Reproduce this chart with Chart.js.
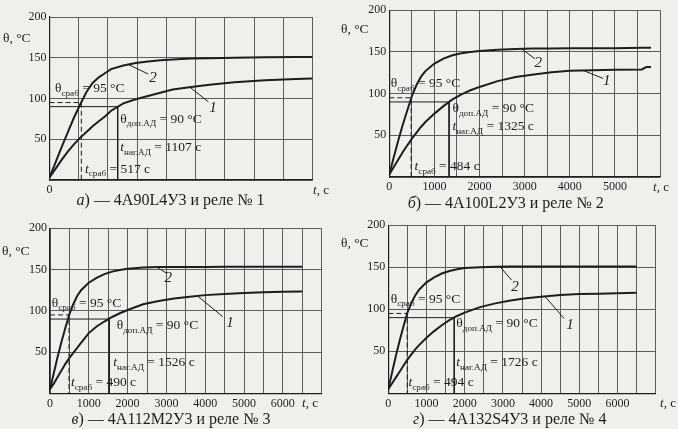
<!DOCTYPE html>
<html>
<head>
<meta charset="utf-8">
<script src="https://cdn.jsdelivr.net/npm/chart.js@4"></script>
<style>
  body { margin: 0; background: #efefec; }
  #wrap { position: relative; width: 678px; height: 429px; overflow: hidden; }
  canvas { position: absolute; }
</style>
</head>
<body>
<div id="wrap">
  <canvas id="pa" width="340" height="215" style="left:0;top:0"></canvas>
  <canvas id="pb" width="338" height="215" style="left:340px;top:0"></canvas>
  <canvas id="pc" width="340" height="214" style="left:0;top:215px"></canvas>
  <canvas id="pd" width="338" height="214" style="left:340px;top:215px"></canvas>
</div>
<script>
// heating curves theta(t)
// 1 - motor, 2 - thermal relay
const timeA = [0, 100, 200, 300, 400, 500, 600, 700, 800, 900, 1000, 1200, 1400, 1600, 1800, 2000, 2300, 2600, 3000, 3500, 4000, 4270];
const curveA1 = [3, 14, 25, 35, 44, 52, 59, 66, 72, 78, 85, 94, 99, 103, 107, 111, 114, 117, 120, 122.5, 124, 124.5];
const curveA2 = [3, 22, 41, 59, 77, 93, 108, 119, 126, 131, 136, 140.5, 143.5, 145.5, 147, 148, 149, 149.5, 150, 150.5, 151, 151];

const timeB = [0, 100, 200, 300, 400, 500, 600, 700, 800, 1000, 1200, 1400, 1600, 1800, 2000, 2400, 2800, 3200, 3600, 4000, 4500, 5000, 5600, 5700, 5800];
const curveB1 = [3, 12, 21, 30, 38, 46, 53, 60, 66, 76, 85, 93, 99, 104, 108, 115, 120, 123, 125.5, 127.5, 128, 128.5, 129, 132, 132];
const curveB2 = [3, 24, 44, 63, 80, 97, 110, 120, 127, 136, 142, 146, 148.5, 150, 151, 152.5, 153.5, 154, 154, 154.5, 154.5, 154.5, 155, 155, 155];

const timeC = [0, 100, 200, 300, 400, 500, 600, 700, 800, 1000, 1200, 1400, 1600, 1800, 2000, 2400, 2800, 3200, 3600, 4000, 4500, 5000, 5500, 6000, 6500];
const curveC1 = [5, 12, 20, 28, 36, 43, 49, 55, 61, 73, 81, 87, 92.5, 97, 101, 108, 112, 115, 117, 119, 120.5, 121.5, 122.5, 123, 123.5];
const curveC2 = [5, 25, 45, 63, 80, 96, 108, 118, 125, 134, 140, 144.5, 147.5, 149.5, 151, 152.5, 153, 153, 153, 153, 153.5, 153.5, 153.5, 153.5, 153.5];

const timeD = [0, 100, 200, 300, 400, 500, 600, 700, 800, 1000, 1200, 1400, 1600, 1800, 2000, 2400, 2800, 3200, 3600, 4000, 4500, 5000, 5500, 6000, 6500];
const curveD1 = [5, 12, 19, 26, 33, 40, 46, 52, 57, 66, 74, 81, 87, 92, 96, 102.5, 107, 110.5, 113, 115, 117, 118, 118.5, 119, 119.5];
const curveD2 = [5, 25, 45, 63, 80, 96, 107, 116, 123, 132, 138, 142.5, 145.5, 147.5, 149, 150, 150.5, 151, 151, 151, 151, 151, 151, 151, 151];

const letters = ['а', 'б', 'в', 'г'];
const motors = ['4А90L4У3', '4А100L2У3', '4А112М2У3', '4А132S4У3'];
const tripTimes = [517, 484, 490, 494];
const heatTimes = [1107, 1325, 1526, 1726];
const thetaTrip = 95;
const thetaAllow = 90;
const xMaxes = [4270, 6000, 7000, 7000];
const xLabelSteps = [500, 1000, 1000, 1000];

const times = [timeA, timeB, timeC, timeD];
const curves1 = [curveA1, curveB1, curveC1, curveD1];
const curves2 = [curveA2, curveB2, curveC2, curveD2];

// where things sit: area/yTitle/tAxis/caption in canvas px, the rest in data units (t, theta)
const layout = [
  { id: 'pa', w: 340, h: 215, area: [49.5, 17, 312.5, 180], yTitle: [3, 37], tAxis: 321, caption: [170.5, 200],
    srab: [89, 108.3], dop: [1150, 70.5], nag: [1150, 35.6], srabT: [576, 9],
    lab2: [1680, 125], lead2: [1280, 1604, 130], lab1: [2654, 88], lead1: [2281, 2578, 96] },
  { id: 'pb', w: 338, h: 215, area: [49.3, 8, 320, 177], yTitle: [1, 28], tAxis: 321, caption: [165.7, 203],
    srab: [31, 107.7], dop: [1400, 78.1], nag: [1400, 56.4], srabT: [560, 8.3],
    lab2: [3302, 136.4], lead2: [2934, 3229, 141.6], lab1: [4818, 114.8], lead1: [4300, 4743, 118] },
  { id: 'pc', w: 340, h: 214, area: [50, 13.3, 321.6, 178.3], yTitle: [2, 35], tAxis: 310, caption: [171, 204],
    srab: [44, 105], dop: [1719, 77.6], nag: [1632, 33.1], srabT: [540, 8.9],
    lab2: [3049, 139.4], lead2: [2750, 3008, 145.5], lab1: [4639, 84.8], lead1: [3800, 4450, 93] },
  { id: 'pd', w: 338, h: 214, area: [48.3, 10, 315.7, 178.3], yTitle: [1, 27], tAxis: 328, caption: [169.7, 204],
    srab: [63, 107.8], dop: [1780, 79.1], nag: [1780, 32.4], srabT: [530, 8.7],
    lab2: [3317, 126.7], lead2: [2924, 3230, 134.6], lab1: [4757, 81.2], lead1: [4100, 4600, 89] }
];

const ink = '#1e1e1e';
const gridInk = '#5c5c5c';
const serif = '"Liberation Serif", "Times New Roman", serif';
Chart.defaults.font.family = serif;
Chart.defaults.color = ink;

function interp(xs, ys, t) {
  for (let k = 1; k < xs.length; k++) {
    if (t <= xs[k]) {
      const f = (t - xs[k - 1]) / (xs[k] - xs[k - 1]);
      return ys[k - 1] + f * (ys[k] - ys[k - 1]);
    }
  }
  return ys[ys.length - 1];
}

// text with italic / subscript pieces; parts = [[text, flags]]
function rich(ctx, x, y, parts, size, center) {
  const fontOf = fl => (fl && fl.includes('i') ? 'italic ' : '') + (fl && fl.includes('s') ? size * 0.68 : size) + 'px ' + serif;
  let w = 0;
  parts.forEach(p => { ctx.font = fontOf(p[1]); w += ctx.measureText(p[0]).width; });
  let cx = center ? x - w / 2 : x;
  ctx.textAlign = 'left';
  ctx.textBaseline = 'alphabetic';
  parts.forEach(p => {
    ctx.font = fontOf(p[1]);
    ctx.fillText(p[0], cx, y + (p[1] && p[1].includes('s') ? size * 0.28 : 0));
    cx += ctx.measureText(p[0]).width;
  });
}

function decor(i) {
  const L = layout[i];
  return {
    id: 'decor' + i,
    afterDraw(chart) {
      const ctx = chart.ctx;
      const X = v => chart.scales.x.getPixelForValue(v);
      const Y = v => chart.scales.y.getPixelForValue(v);
      ctx.save();
      ctx.fillStyle = ink;
      ctx.strokeStyle = ink;
      ctx.lineWidth = 1;
      [[L.lead2, curves2[i]], [L.lead1, curves1[i]]].forEach(([ld, c]) => {
        ctx.beginPath();
        ctx.moveTo(X(ld[0]), Y(interp(times[i], c, ld[0])));
        ctx.lineTo(X(ld[1]), Y(ld[2]));
        ctx.stroke();
      });
      ctx.font = 'italic 15px ' + serif;
      ctx.textAlign = 'center';
      ctx.textBaseline = 'middle';
      ctx.fillText('2', X(L.lab2[0]), Y(L.lab2[1]));
      ctx.fillText('1', X(L.lab1[0]), Y(L.lab1[1]));

      const fs = 13.5;
      rich(ctx, X(L.srab[0]), Y(L.srab[1]), [['θ'], ['сраб', 's'], [' = ' + thetaTrip + ' °C']], fs);
      rich(ctx, X(L.dop[0]), Y(L.dop[1]), [['θ'], ['доп.АД', 's'], [' = ' + thetaAllow + ' °C']], fs);
      rich(ctx, X(L.nag[0]), Y(L.nag[1]), [['t', 'i'], ['наг.АД', 's'], [' = ' + heatTimes[i] + ' с']], fs);
      rich(ctx, X(L.srabT[0]), Y(L.srabT[1]), [['t', 'i'], ['сраб', 's'], [' = ' + tripTimes[i] + ' с']], fs);

      rich(ctx, L.yTitle[0], L.yTitle[1] + 4.5, [['θ, °C']], 13.5);
      rich(ctx, L.tAxis, L.area[3] + 14, [['t', 'i'], [', с']], 13, true);
      rich(ctx, L.caption[0], L.caption[1] + 5, [[letters[i], 'i'], [') — ' + motors[i] + ' и реле № ' + (i + 1)]], 16, true);
      ctx.restore();
    }
  };
}

layout.forEach((L, i) => {
  const pts = c => times[i].map((t, k) => ({ x: t, y: c[k] }));
  new Chart(document.getElementById(L.id), {
    type: 'line',
    data: {
      datasets: [
        { data: pts(curves1[i]), borderColor: ink, borderWidth: 2, pointRadius: 0, tension: 0 },
        { data: pts(curves2[i]), borderColor: ink, borderWidth: 2, pointRadius: 0, tension: 0 },
        { data: [{ x: 0, y: thetaTrip }, { x: tripTimes[i], y: thetaTrip }, { x: tripTimes[i], y: 0 }],
          borderColor: ink, borderWidth: 1, borderDash: [5, 3], pointRadius: 0 },
        { data: [{ x: 0, y: thetaAllow }, { x: heatTimes[i], y: thetaAllow }, { x: heatTimes[i], y: 0 }],
          borderColor: ink, borderWidth: 1, pointRadius: 0 }
      ]
    },
    options: {
      responsive: false,
      animation: false,
      devicePixelRatio: 1,
      layout: { padding: { left: 0, top: L.area[1], right: L.w - L.area[2], bottom: 0 } },
      plugins: { legend: { display: false }, tooltip: { enabled: false } },
      scales: {
        x: {
          type: 'linear', min: 0, max: xMaxes[i],
          afterFit: s => { s.height = L.h - L.area[3]; },
          grid: { color: gridInk, lineWidth: 1, drawTicks: false },
          border: { color: ink, width: 1.2 },
          ticks: {
            stepSize: 500, includeBounds: false, autoSkip: false, maxRotation: 0, padding: 3,
            font: { size: 12 },
            callback: v => (v % xLabelSteps[i] === 0 && v < xMaxes[i] ? v : '')
          }
        },
        y: {
          min: 0, max: 200,
          afterFit: s => { s.width = L.area[0]; },
          grid: { color: gridInk, lineWidth: 1, drawTicks: false },
          border: { color: ink, width: 1.2 },
          ticks: { stepSize: 50, padding: 3, font: { size: 12 }, callback: v => (v === 0 ? '' : v) }
        }
      }
    },
    plugins: [decor(i)]
  });
});
</script>
</body>
</html>
